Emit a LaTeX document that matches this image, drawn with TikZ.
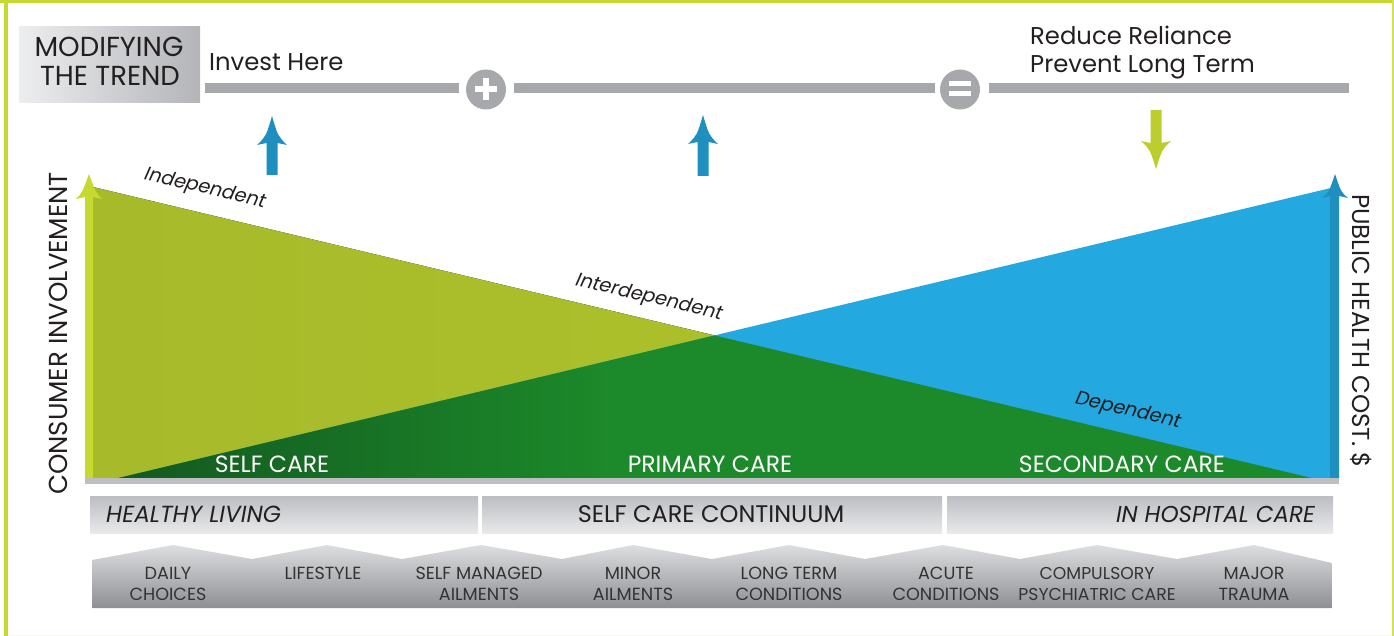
\documentclass[tikz,border=0pt]{standalone}
\usepackage{fontspec}
\setmainfont{Poppins}
\usetikzlibrary{calc}
\definecolor{lime}{HTML}{C5D930}
\definecolor{olive}{HTML}{A7BA2A}
\definecolor{olivelight}{HTML}{B0C52D}
\definecolor{dkgreen}{HTML}{135820}
\definecolor{green}{HTML}{1C8A2A}
\definecolor{skyblue}{HTML}{24A8E0}
\definecolor{arrblue}{HTML}{1E8FBF}
\definecolor{linegray}{HTML}{A7A8AB}
\definecolor{txt}{HTML}{231F20}
\definecolor{lbltxt}{HTML}{333333}
\definecolor{rowtop}{HTML}{BDBEC2}
\definecolor{rowbot}{HTML}{E8E9EB}
\definecolor{chevtop}{HTML}{DDDEE0}
\definecolor{chevbot}{HTML}{8E8F93}
\pgfdeclarehorizontalshading{greenshade}{100bp}{color(0bp)=(dkgreen); color(25bp)=(dkgreen); color(46bp)=(green); color(100bp)=(green)}
\tikzset{
  headtext/.style={font=\fontsize{24.3}{28}\selectfont, text=txt, inner sep=0pt},
  boxtext/.style={font=\fontsize{27.5}{30}\selectfont, text=txt, inner sep=0pt, anchor=base},
  axistext/.style={text=txt, inner sep=0pt},
  caretext/.style={font=\fontsize{23.5}{28}\selectfont, text=white, inner sep=0pt, anchor=base},
  diagtext/.style={font=\fontsize{19.3}{24}\selectfont\itshape, text=txt, inner sep=0pt, rotate=-13.4},
  rowtext/.style={font=\fontsize{23}{26}\selectfont, text=txt, inner sep=0pt, anchor=base},
  itemtext/.style={font=\fontsize{17.6}{21}\selectfont, text=lbltxt, inner sep=0pt, align=center, anchor=base},
  grayline/.style={fill=linegray, draw=none},
  rowbar/.style={top color=rowtop, bottom color=rowbot, draw=none},
}
% cx, tip y, head base y, head back-corner y, tail y, color
\newcommand{\vertarrow}[6]{%
  \pgfmathsetmacro\arrcy{#3+0.25*((#2)-(#3))}%
  \fill[#6] ({#1-5.5},#5) -- ({#1-5.5},#3) -- ({#1-15},#4)
    .. controls ({#1-6},\arrcy) .. (#1,#2)
    .. controls ({#1+6},\arrcy) .. ({#1+15},#4)
    -- ({#1+5.5},#3) -- ({#1+5.5},#5) -- cycle;}
\begin{document}
\begin{tikzpicture}[x=1pt,y=-1pt]
\useasboundingbox (0,0) rectangle (1394,636);
% border
\fill[lime] (0,0) rectangle (1394,3.5);
\fill[lime] (4,0) rectangle (7.5,636);
\fill[lime!80] (1391.5,0) rectangle (1393.5,636);
\fill[lime!12] (7.5,634.5) rectangle (1391.5,636);

% title box
\node[draw=none, left color=rowbot!80!white, right color=rowtop!95!black, minimum width=181pt, minimum height=76pt, anchor=north west, inner sep=0pt] (mod) at (19,26) {};
\node[boxtext] (modA) at (109,57) {MODIFYING};
\node[boxtext] (modB) at (110,86) {THE TREND};
\node[headtext, anchor=base west] (invest) at (209,71) {Invest Here};
\node[headtext, anchor=base west] (reduce) at (1030,45) {Reduce Reliance};
\node[headtext, anchor=base west] (prevent) at (1030,73) {Prevent Long Term};

% gray lines and operators
\fill[grayline] (205,83.5) rectangle (459,93);
\fill[grayline] (514,83.5) rectangle (935,93);
\fill[grayline] (989,83.5) rectangle (1349,93);
\node[circle, fill=linegray, minimum size=40pt, inner sep=0pt] (plus) at (486,89.5) {};
\fill[white] (475,86.5) rectangle (497,92.5);
\fill[white] (483,78.5) rectangle (489,100.5);
\node[circle, fill=linegray, minimum size=40pt, inner sep=0pt] (equals) at (960,89.5) {};
\fill[white] (949,81) rectangle (971,86);
\fill[white] (949,91) rectangle (971,96);

% small arrows
\vertarrow{272}{116}{143}{145}{175}{arrblue}
\vertarrow{703}{115}{142}{144}{176}{arrblue}
\vertarrow{1156}{169}{143}{141}{110}{lime!95!black}

% chart triangles
\coordinate (oTop) at (93,187);
\coordinate (oBL) at (93,480);
\coordinate (oBR) at (1320,480);
\coordinate (bBL) at (110,480);
\coordinate (bTop) at (1335,187);
\coordinate (bBR) at (1335,480);
\coordinate (X) at (intersection of oTop--oBR and bBL--bTop);
\fill[left color=olive, right color=olivelight] (oTop) -- (oBL) -- (oBR) -- cycle;
\fill[skyblue] (bBL) -- (bTop) -- (bBR) -- cycle;
\shade[shading=greenshade] (bBL) -- (X) -- (oBR) -- cycle;

% axis arrows
\fill[lime] (85,480) -- (85,197) -- (76,199) .. controls (82,193) .. (89,174) .. controls (96,193) .. (102,199) -- (93,197) -- (93,480) -- cycle;
\fill[arrblue] (1330,480) -- (1330,196) -- (1322,198) .. controls (1329,192) .. (1335,174) .. controls (1341,192) .. (1348,198) -- (1339,196) -- (1339,480) -- cycle;
\fill[rowtop] (85,478) rectangle (1339,484);

% chart labels
\node[caretext] (self) at (272,472) {SELF CARE};
\node[caretext] (prim) at (710,472) {PRIMARY CARE};
\node[caretext] (sec) at (1122,472) {SECONDARY CARE};
\node[diagtext] (indep) at (205,189) {Independent};
\node[diagtext] (inter) at (649,298) {Interdependent};
\node[diagtext] (dep) at (1128,411) {Dependent};
\node[axistext, font=\fontsize{26}{30}\selectfont, rotate=90] (cons) at (58,333.5) {CONSUMER INVOLVEMENT};
\node[axistext, font=\fontsize{24.5}{30}\selectfont, rotate=-90] (pub) at (1361,331) {PUBLIC HEALTH COST. \$};

% row 1
\fill[rowbar] (90,496) rectangle (478,533);
\fill[rowbar] (482,496) rectangle (942,533);
\fill[rowbar] (947,496) rectangle (1333,533);
\node[rowtext, anchor=base west, font=\fontsize{23.3}{26}\selectfont\itshape] (healthy) at (106,522) {HEALTHY LIVING};
\node[rowtext, font=\fontsize{24}{26}\selectfont] (cont) at (711,522) {SELF CARE CONTINUUM};
\node[rowtext, anchor=base east, font=\fontsize{23}{26}\selectfont\itshape] (hosp) at (1315,522) {IN HOSPITAL CARE};

% row 2
\shade[top color=chevtop, bottom color=chevbot] (92,608) -- (92,560) -- (173,545) -- (252,559) -- (327,545) -- (402,559) -- (481,545) -- (562,559) -- (633,545) -- (712,559) -- (789,545) -- (865,559) -- (943,545) -- (1020,559) -- (1097,545) -- (1177,559) -- (1254,545) -- (1332,563) -- (1332,608) -- cycle;
\node[itemtext] (i1) at (168,600) {DAILY\\CHOICES};
\node[itemtext] (i2) at (323,579) {LIFESTYLE};
\node[itemtext] (i3) at (479,600) {SELF MANAGED\\AILMENTS};
\node[itemtext] (i4) at (633,600) {MINOR\\AILMENTS};
\node[itemtext] (i5) at (789,600) {LONG TERM\\CONDITIONS};
\node[itemtext] (i6) at (946,600) {ACUTE\\CONDITIONS};
\node[itemtext, font=\fontsize{17.2}{21}\selectfont] (i7) at (1097,600) {COMPULSORY\\PSYCHIATRIC CARE};
\node[itemtext] (i8) at (1254,600) {MAJOR\\TRAUMA};
\end{tikzpicture}
\end{document}
